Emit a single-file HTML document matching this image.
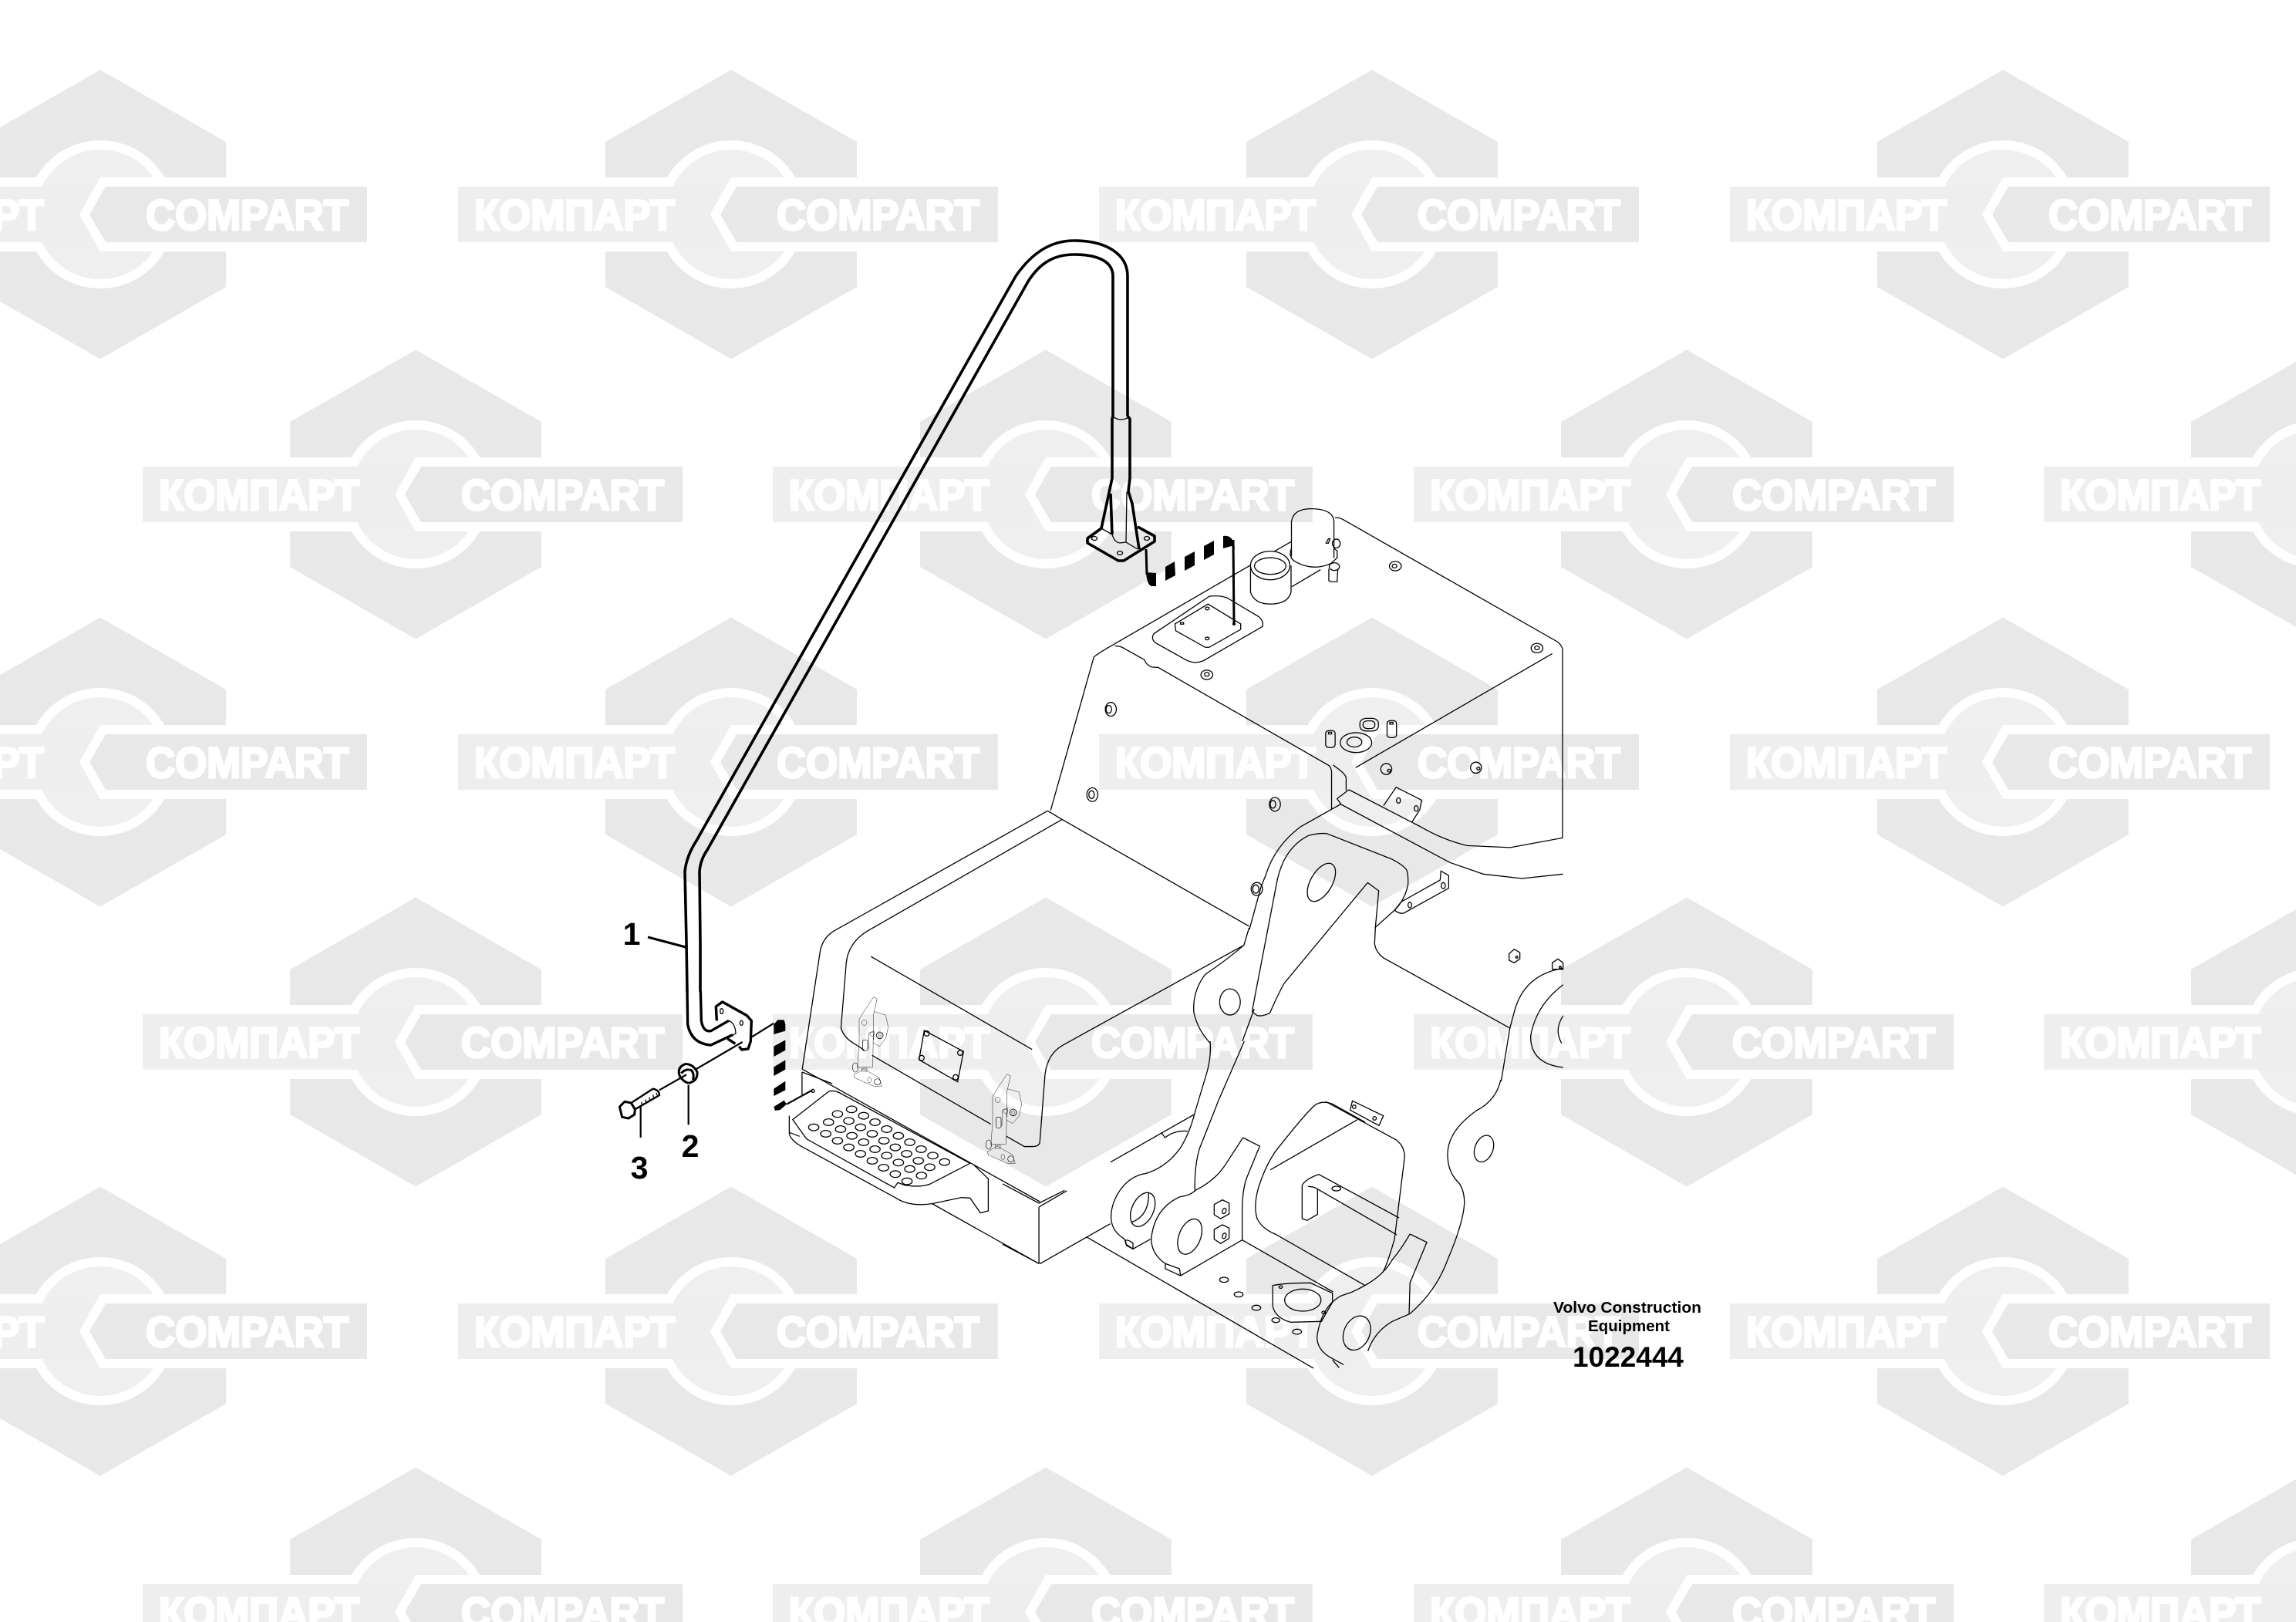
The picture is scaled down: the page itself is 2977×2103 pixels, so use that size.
<!DOCTYPE html>
<html><head><meta charset="utf-8"><style>
html,body{margin:0;padding:0;background:#fff;width:2977px;height:2103px;overflow:hidden}
svg{display:block;width:2977px;height:2103px;overflow:hidden}
.t path,.t ellipse,.t circle,.t polygon,.t polyline,.t rect{vector-effect:non-scaling-stroke}
.t{fill:none;stroke:#000;stroke-width:1.3}
.wt{font-family:"Liberation Sans",sans-serif;font-weight:bold;font-size:56px;fill:#fff;stroke:#fff;stroke-width:3}
.lb{font-family:"Liberation Sans",sans-serif;font-weight:bold;fill:#000}
</style></head><body>
<svg xmlns="http://www.w3.org/2000/svg" xmlns:xlink="http://www.w3.org/1999/xlink" width="2977" height="2103" viewBox="0 0 2977 2103">
<defs>
<clipPath id="page"><rect width="2977" height="2103"/></clipPath>
<g id="w">
<polygon points="0,-187.5 163,-94 163,-48 -163,-48 -163,-94" fill="#e8e8e8"/>
<polygon points="0,187.5 163,94 163,48 -163,48 -163,94" fill="#e8e8e8"/>
<circle r="96" fill="#fff"/>
<circle r="84" fill="#efefef"/>
<rect x="-354" y="-36" width="340" height="72" fill="#eeeeee"/>
<polygon points="0,-48 -27,0 0,48 100,48 100,-48" fill="#fff"/>
<polygon points="7,-36 -14,0 7,36 346,36 346,-36" fill="#e8e8e8"/>
<text class="wt" x="59" y="20" textLength="263" lengthAdjust="spacingAndGlyphs">COMPART</text>
<text class="wt" x="-333" y="20" textLength="260" lengthAdjust="spacingAndGlyphs">КОМПАРТ</text>
</g>
<g id="latch">
<path d="M128 38 L142 45 L128 105 L125 310 L65 312 L72 230 L72 125 L90 95 Z"/>
<path d="M130 95 L175 108 L185 155 L175 200 L150 230 L125 215"/>
<path d="M108 240 L110 178 L130 170 L128 205"/>
<circle cx="92" cy="138" r="10"/><circle cx="122" cy="182" r="8"/>
<circle cx="152" cy="187" r="13" stroke-width="2.5"/><circle cx="152" cy="187" r="6"/>
<rect x="85" y="205" width="20" height="42" rx="6" stroke-width="2"/>
<ellipse cx="57" cy="312" rx="11" ry="18" stroke-width="1.8"/>
<rect x="82" y="315" width="20" height="12"/>
<path d="M52 340 L90 318 L150 352 L160 385 L130 385 L95 370 L55 352 Z"/>
<ellipse cx="112" cy="360" rx="7" ry="11"/><circle cx="143" cy="368" r="12" stroke-width="2"/>
</g>
</defs>
<rect width="2977" height="2103" fill="#fff"/>
<g clip-path="url(#page)">

<use xlink:href="#w" href="#w" x="130" y="278"/><use xlink:href="#w" href="#w" x="948" y="278"/><use xlink:href="#w" href="#w" x="1779" y="278"/><use xlink:href="#w" href="#w" x="2597" y="278"/>
<use xlink:href="#w" href="#w" x="539" y="641"/><use xlink:href="#w" href="#w" x="1356" y="641"/><use xlink:href="#w" href="#w" x="2187" y="641"/><use xlink:href="#w" href="#w" x="3004" y="641"/>
<use xlink:href="#w" href="#w" x="130" y="988"/><use xlink:href="#w" href="#w" x="948" y="988"/><use xlink:href="#w" href="#w" x="1779" y="988"/><use xlink:href="#w" href="#w" x="2597" y="988"/>
<use xlink:href="#w" href="#w" x="539" y="1351"/><use xlink:href="#w" href="#w" x="1356" y="1351"/><use xlink:href="#w" href="#w" x="2187" y="1351"/><use xlink:href="#w" href="#w" x="3004" y="1351"/>
<use xlink:href="#w" href="#w" x="130" y="1726"/><use xlink:href="#w" href="#w" x="948" y="1726"/><use xlink:href="#w" href="#w" x="1779" y="1726"/><use xlink:href="#w" href="#w" x="2597" y="1726"/>
<use xlink:href="#w" href="#w" x="539" y="2090"/><use xlink:href="#w" href="#w" x="1356" y="2090"/><use xlink:href="#w" href="#w" x="2187" y="2090"/><use xlink:href="#w" href="#w" x="3004" y="2090"/>

<!-- tank (upper machine body) -->
<g class="t" transform="translate(1300,600) scale(.5102,.3571)">
<path d="M272 668 L735 285"/>
<path d="M734 340 L734 215 Q738 165 788 167 Q842 170 842 215 L842 345"/>
<path d="M734 310 Q725 345 745 360 Q790 395 835 365 L850 345 L850 320 L842 310"/>
<path d="M845 200 Q855 198 865 206 L1410 650 Q1423 665 1423 680 L1423 1362 L1290 1397 L1180 1390 Q1120 1370 1060 1320 L1040 1305"/>
<ellipse cx="680" cy="373" rx="50" ry="52" fill="#fff"/>
<ellipse cx="680" cy="375" rx="40" ry="30"/>
<path d="M630 373 L630 470 Q640 513 680 513 Q725 513 733 470 L733 373"/>
<path d="M735 450 L808 388"/>
<ellipse cx="848" cy="293" rx="10" ry="16"/><path d="M822 292 L828 276 L832 276 L828 292 Z"/>
<ellipse cx="843" cy="377" rx="13" ry="14"/>
<path d="M829 385 L829 428 L835 432 L850 432 L852 385"/>
<path d="M525 485 Q550 480 570 490 L650 558 Q665 575 660 595 L515 715 Q490 735 465 715 L390 655 Q375 640 385 620 Z"/>
<path d="M522 513 L605 585 L605 605 L525 670 L515 670 L440 610 L438 585 Z"/>
<ellipse cx="520" cy="529" rx="5" ry="5"/><rect x="452" y="580" width="8" height="6"/><ellipse cx="520" cy="638" rx="5" ry="5"/>
<ellipse cx="998" cy="375" rx="15" ry="17"/><ellipse cx="996" cy="375" rx="6" ry="7"/>
<ellipse cx="1358" cy="673" rx="15" ry="17"/><ellipse cx="1358" cy="672" rx="6" ry="7"/>
<ellipse cx="519" cy="770" rx="15" ry="17"/><ellipse cx="519" cy="768" rx="6" ry="7"/>
<path d="M272 668 Q245 690 232 705 L122 1262"/>
<path d="M285 665 Q300 665 310 675 L360 715 Q365 735 380 742 L395 743 L830 1100 Q836 1110 836 1125 L836 1258"/>
<path d="M840 1098 Q873 1130 873 1145 L873 1190"/>
<path d="M897 1107 L1397 693"/>
<path d="M880 1187 L850 1220 L860 1240"/>
<path d="M880 1187 L1040 1305"/>
<path d="M968 1245 L1000 1178 L1065 1225 L1060 1260 L1040 1305"/>
<ellipse cx="1006" cy="1226" rx="5" ry="10"/><ellipse cx="1051" cy="1255" rx="5" ry="10"/>
<ellipse cx="275" cy="895" rx="14" ry="25"/><ellipse cx="270" cy="895" rx="7" ry="14"/>
<ellipse cx="228" cy="1205" rx="14" ry="25"/><ellipse cx="226" cy="1205" rx="7" ry="14"/>
<ellipse cx="692" cy="1240" rx="14" ry="25"/><ellipse cx="687" cy="1240" rx="7" ry="14"/>
<ellipse cx="975" cy="1112" rx="14" ry="20"/><ellipse cx="982" cy="1118" rx="4" ry="5"/>
<ellipse cx="1203" cy="1107" rx="14" ry="20"/><ellipse cx="1209" cy="1110" rx="4" ry="5"/>
<rect x="908" y="928" width="47" height="46" rx="16" ry="18"/><rect x="916" y="937" width="30" height="28" rx="11" ry="11"/>
<rect x="977" y="936" width="24" height="62" rx="9" ry="10"/><rect x="984" y="942" width="8" height="7"/>
<rect x="821" y="972" width="24" height="62" rx="9" ry="10"/><rect x="828" y="978" width="8" height="7"/>
<ellipse cx="898" cy="1016" rx="40" ry="36"/><ellipse cx="894" cy="1014" rx="19" ry="18"/>
</g>

<!-- battery box + arm continuation -->
<g class="t" transform="translate(1000,1000) scale(.6698,.4464)">
<path d="M535 115 L120 465 Q100 485 95 520 L60 865"/>
<path d="M563 140 L185 465 Q148 500 145 560 L135 745 Q140 775 165 795 L180 810"/>
<path d="M535 115 L563 140 L925 450"/>
<path d="M60 865 L520 1250"/>
<path d="M193 538 L505 808"/>
<path d="M915 505 L565 795 Q535 820 530 880 L520 1075 Q520 1090 505 1090 L490 1090 L455 1060"/>
<path d="M195 825 L425 1025"/>
<path d="M1533 572 Q1460 590 1440 690 L1430 745"/>
<path d="M1533 620 Q1480 680 1470 770 Q1470 850 1533 860"/>
<path d="M1533 710 Q1515 750 1530 790"/>
<path d="M1430 745 L1413 900"/>
<path d="M925 455 L915 505 Q880 550 840 590 Q815 640 818 700 Q825 750 850 790"/>
<ellipse cx="888" cy="670" rx="20" ry="38"/>
<path d="M935 690 L912 784"/>
<ellipse cx="940" cy="342" rx="11" ry="19"/><ellipse cx="938" cy="342" rx="6" ry="12"/>
</g>

<!-- upper arm -->
<g class="t" transform="translate(1620,1040) scale(.33333)">
<path d="M0 495 L45 330 L65 280 Q100 170 200 95 L355 8 L780 235 L910 280 L1060 297 L1220 280"/>
<path d="M10 815 L105 320 Q130 180 230 130 Q265 120 300 122 L550 220 Q600 245 612 265 Q618 280 617 320 Q605 380 565 420 L490 487 L503 345 L460 313 L135 705 Q100 770 80 820 Q50 835 30 830 L10 815"/>
<path d="M490 487 L487 550 Q490 580 520 605 L1015 880"/>
<path d="M745 268 L775 285 L775 335 L600 432 Q580 435 565 420 L590 388 L742 303 Z"/>
<ellipse cx="624" cy="400" rx="7" ry="11"/><ellipse cx="754" cy="325" rx="8" ry="12"/>
<path d="M1010 590 L1030 572 L1052 585 L1052 610 L1030 625 L1010 615 Z"/><circle cx="1040" cy="603" r="4"/>
<path d="M1178 625 L1200 610 L1220 625 L1220 650 L1178 650 Z"/><circle cx="1209" cy="642" r="4"/>
<ellipse cx="280" cy="312" rx="42" ry="82" transform="rotate(30 280 312)"/>
</g>

<!-- lower arms -->
<g class="t" transform="translate(1440,1350) scale(.33333)">
<path d="M387 0 Q392 60 375 120 L330 270 Q310 350 275 410 Q220 490 135 515 Q70 525 30 590 Q0 640 2 690 Q5 740 55 770 L60 790 L87 808 L155 770"/>
<path d="M520 0 L420 230 L345 420 Q325 490 328 585"/>
<path d="M515 375 L580 408 L530 530 Q515 570 512 640 L512 773 L272 912 L213 885 L213 865 L268 885 L272 912"/>
<path d="M515 375 L450 475 Q410 540 330 580 Q310 600 270 605 Q170 650 158 770 Q160 830 213 865"/>
<ellipse cx="125" cy="655" rx="42" ry="70" transform="rotate(25 125 655)"/>
<path d="M148 590 Q150 680 80 705"/>
<ellipse cx="308" cy="760" rx="42" ry="72" transform="rotate(22 308 760)"/>
<path d="M403 635 L435 617 L461 630 L461 672 L428 690 L403 675 Z"/><ellipse cx="442" cy="660" rx="7" ry="11" transform="rotate(20 442 660)"/>
<path d="M403 732 L435 714 L461 727 L461 767 L428 787 L403 770 Z"/><ellipse cx="442" cy="757" rx="7" ry="11" transform="rotate(20 442 757)"/>
<path d="M58 775 Q65 770 87 785 L87 808 L62 795 Z"/>
<path d="M0 470 L325 285"/>
<path d="M197 355 L212 375 Q250 345 300 350"/>
<path d="M990 315 L865 245 Q830 230 800 245 Q770 265 640 430 Q600 490 575 570 Q555 640 570 690 Q590 730 640 750 L990 950"/>
<path d="M622 500 L960 305"/>
<path d="M745 560 Q760 535 810 518 L1122 687"/>
<path d="M768 565 Q790 565 805 575 L1113 753"/>
<path d="M745 560 L745 690 L765 697 L805 673 L805 575"/>
<ellipse cx="878" cy="573" rx="17" ry="9"/>
<path d="M512 773 L865 975"/>
</g>

<!-- lower frame, right side -->
<g class="t" transform="translate(1300,1400) scale(.5741,.3333)">
<path d="M0 405 L82 480 L140 430 M82 495 L145 432 M82 495 L82 710 L85 715 L190 612 L243 560"/>
<path d="M0 640 L82 715"/>
<path d="M190 612 L702 1122"/>
<path d="M730 85 L890 235 Q908 260 908 300 L885 620 Q870 710 860 745 Q840 785 790 825 L765 840 Q720 880 710 1000 Q710 1050 740 1080 L770 1108"/>
<path d="M790 82 L860 140 L850 178 L785 118 Z"/><ellipse cx="794" cy="105" rx="4" ry="7"/><ellipse cx="840" cy="150" rx="4" ry="7"/>
<path d="M1125 0 Q1115 80 1070 120 Q1005 200 1005 290 Q1005 360 1030 400 Q1043 430 1043 480 Q1040 560 1005 700 Q980 820 920 910 L880 940 Q840 980 825 1055"/>
<ellipse cx="1087" cy="268" rx="21" ry="52" transform="rotate(8 1087 268)"/>
<path d="M920 600 L958 632 L920 790 L918 912 M920 600 Q900 660 880 700 Q870 730 860 745"/>
<path d="M610 800 Q640 790 695 790 L745 830 L745 865 L720 940 L650 943 Q615 925 610 880 Z"/>
<ellipse cx="678" cy="857" rx="41" ry="43"/><ellipse cx="628" cy="806" rx="4" ry="5"/><ellipse cx="725" cy="905" rx="4" ry="5"/>
<ellipse cx="500" cy="778" rx="10" ry="10"/><ellipse cx="533" cy="835" rx="10" ry="10"/><ellipse cx="573" cy="887" rx="10" ry="10"/><ellipse cx="617" cy="935" rx="9" ry="9"/><ellipse cx="665" cy="980" rx="10" ry="10"/>
<ellipse cx="800" cy="985" rx="30" ry="67" transform="rotate(8 800 985)"/>
<path d="M745 1090 L760 1120"/>
</g>

<!-- step -->
<g class="t" transform="translate(760,1140) scale(.4464,.3333)">
<path d="M627 750 L627 840 M627 750 L715 795"/>
<path d="M705 825 Q720 820 735 830 L1115 1105 L1000 1185 Q970 1200 925 1190 L905 1180 L895 1200 L640 1010 L600 935 Z"/>
<path d="M590 920 L590 990 Q595 1020 640 1050 L900 1240 Q940 1275 1005 1262 L1090 1238 L1115 1240 L1145 1298 L1168 1290 L1168 1165 L1125 1110"/>
<path d="M1005 1262 L1315 1495"/>
<path d="M620 1000 L590 985"/>
<ellipse cx="771" cy="895" rx="15" ry="13"/><ellipse cx="730" cy="913" rx="15" ry="13"/><ellipse cx="806" cy="920" rx="15" ry="13"/><ellipse cx="661" cy="965" rx="15" ry="13"/><ellipse cx="704" cy="945" rx="15" ry="13"/><ellipse cx="763" cy="940" rx="15" ry="13"/><ellipse cx="839" cy="945" rx="15" ry="13"/><ellipse cx="696" cy="990" rx="15" ry="13"/><ellipse cx="739" cy="972" rx="15" ry="13"/><ellipse cx="797" cy="965" rx="15" ry="13"/><ellipse cx="873" cy="972" rx="15" ry="13"/><ellipse cx="730" cy="1017" rx="15" ry="13"/><ellipse cx="772" cy="998" rx="15" ry="13"/><ellipse cx="831" cy="990" rx="15" ry="13"/><ellipse cx="907" cy="998" rx="15" ry="13"/><ellipse cx="763" cy="1043" rx="15" ry="13"/><ellipse cx="806" cy="1023" rx="15" ry="13"/><ellipse cx="865" cy="1017" rx="15" ry="13"/><ellipse cx="940" cy="1023" rx="15" ry="13"/><ellipse cx="797" cy="1068" rx="15" ry="13"/><ellipse cx="839" cy="1050" rx="15" ry="13"/><ellipse cx="898" cy="1043" rx="15" ry="13"/><ellipse cx="973" cy="1050" rx="15" ry="13"/><ellipse cx="831" cy="1095" rx="15" ry="13"/><ellipse cx="873" cy="1075" rx="15" ry="13"/><ellipse cx="931" cy="1068" rx="15" ry="13"/><ellipse cx="1007" cy="1075" rx="15" ry="13"/><ellipse cx="864" cy="1122" rx="15" ry="13"/><ellipse cx="907" cy="1102" rx="15" ry="13"/><ellipse cx="965" cy="1095" rx="15" ry="13"/><ellipse cx="1041" cy="1100" rx="15" ry="13"/><ellipse cx="898" cy="1147" rx="15" ry="13"/><ellipse cx="940" cy="1127" rx="15" ry="13"/><ellipse cx="998" cy="1120" rx="15" ry="13"/><ellipse cx="932" cy="1175" rx="15" ry="13"/><ellipse cx="974" cy="1153" rx="15" ry="13"/>
</g>

<!-- latches and name plate -->
<g class="t" transform="translate(1090,1280) scale(.33333)">
<use xlink:href="#latch" href="#latch"/>
<use xlink:href="#latch" href="#latch" x="519" y="300"/>
<path d="M325 168 L478 250 L455 368 L305 282 Z"/>
<circle cx="335" cy="180" r="10"/><circle cx="465" cy="255" r="10"/><circle cx="315" cy="275" r="10"/><circle cx="447" cy="350" r="10"/>
</g>

<!-- handrail -->
<g fill="none" stroke="#000" stroke-width="3.6" stroke-linejoin="round">
<path d="M891 1286 L890 1222 L888 1130 Q890 1110 903 1090 L1317 358 C1340 325 1365 312 1393 312 C1435 312 1462 330 1462 358 L1462 540"/>
<path d="M908 1286 L908 1222 L907 1130 Q908 1115 917 1102 L1333 365 C1350 338 1370 330 1393 330 C1425 330 1443 340 1443 358 L1443 540"/>
<path d="M1443 540 L1442 543 L1442 620 L1428 685 L1410 698 L1410 704 L1450 727 L1457 727 L1497 702 L1497 695 L1475 683"/>
<path d="M1462 540 L1465 543 L1465 620 L1463 637 L1468 653 L1477 712"/>
<path d="M1440 640 L1442 693"/>
</g>
<g fill="none" stroke="#000" stroke-width="1.3">
<path d="M1461 638 L1460 703"/>
<path d="M1442 693 Q1445 703 1452 704 L1460 703 L1475 712"/>
<path d="M1428 685 L1442 693"/>
<ellipse cx="1419" cy="698" rx="3.5" ry="2.5"/><ellipse cx="1487" cy="698" rx="3.5" ry="2.5"/><ellipse cx="1452" cy="717" rx="3.5" ry="2.5"/>
<path d="M1443 540 Q1453 548 1465 540"/>
</g>

<!-- flange, bolt, washer, dashed lines, leaders -->
<g transform="translate(790,1285) scale(.33333)" fill="none" stroke="#000" stroke-linejoin="round">
<g stroke-width="3.4" vector-effect="non-scaling-stroke">
<path vector-effect="non-scaling-stroke" d="M303 0 L305 130 Q320 205 395 210 L480 170"/>
<path vector-effect="non-scaling-stroke" d="M355 0 L358 115 Q365 160 395 155 L465 115"/>
<path vector-effect="non-scaling-stroke" d="M418 115 L415 60 L440 42 L535 95 L553 115 L550 195 L540 225 L515 228 L505 215"/>
<path vector-effect="non-scaling-stroke" d="M460 185 L490 205"/>
</g>
<g stroke-width="1.3">
<path vector-effect="non-scaling-stroke" d="M465 115 Q490 125 492 165 L480 172"/>
<ellipse vector-effect="non-scaling-stroke" cx="437" cy="78" rx="6" ry="10"/>
<ellipse vector-effect="non-scaling-stroke" cx="514" cy="124" rx="6" ry="9"/>
<path vector-effect="non-scaling-stroke" d="M125 432 L128 442 M140 422 L143 432 M155 413 L158 423 M170 404 L173 414 M183 396 L186 405"/>
</g>
<g stroke-width="2.2">
<path vector-effect="non-scaling-stroke" d="M195 385 L300 325"/>
<path vector-effect="non-scaling-stroke" d="M335 305 L518 198"/>
<path vector-effect="non-scaling-stroke" d="M555 178 L640 125"/>
<path vector-effect="non-scaling-stroke" d="M122 450 L122 570"/>
<path vector-effect="non-scaling-stroke" d="M308 365 L308 520"/>
<path vector-effect="non-scaling-stroke" d="M690 440 L790 385"/>
</g>
<g stroke-width="3">
<path vector-effect="non-scaling-stroke" d="M40 450 L60 430 L85 435 L100 460 L98 480 L75 495 L50 490 Z"/>
<path vector-effect="non-scaling-stroke" d="M85 435 L170 380 Q195 385 195 405 L100 460" stroke-width="2.4"/>
<path vector-effect="non-scaling-stroke" d="M308 358 Q345 350 342 315 Q325 282 295 284 Q265 295 272 325 Q282 350 308 358"/>
<path vector-effect="non-scaling-stroke" d="M280 320 Q295 300 320 308 Q332 325 325 345"/>
</g>
<circle vector-effect="non-scaling-stroke" cx="792" cy="388" r="6" stroke-width="1.3"/>
<g fill="#000" stroke="none">
<path d="M640 130 L655 112 L680 112 L685 130 L685 155 L640 168 Z"/>
<polygon points="640,215 685,190 685,230 640,255"/>
<polygon points="640,295 685,268 685,305 640,330"/>
<polygon points="640,380 685,350 685,385 640,408"/>
<polygon points="640,450 680,425 690,440 665,462 645,465"/>
</g>
</g>

<!-- upper dashed connector -->
<g fill="none" stroke="#000" stroke-width="3">
<path d="M1486 712 L1487 745"/>
<path d="M1599 700 L1600 809"/>
</g>
<g fill="#000">
<polygon points="1511,735 1523,728 1524,746 1511,753"/>
<polygon points="1536,722 1549,715 1549,733 1536,740"/>
<polygon points="1561,708 1574,701 1574,719 1561,726"/>
<path d="M1486 742 L1499 743 L1499 760 L1493 760 Q1487 758 1486 742 Z"/>
<path d="M1586 695 Q1600 693 1601 712 L1597 708 L1586 711 Z"/>
<circle cx="1600" cy="809" r="2"/>
</g>

<!-- item 1 leader -->
<path d="M840 1215 L889 1228" fill="none" stroke="#000" stroke-width="3"/>

<text class="lb" x="819" y="1225" font-size="41" text-anchor="middle">1</text>
<text class="lb" x="895" y="1500" font-size="41" text-anchor="middle">2</text>
<text class="lb" x="829" y="1528" font-size="41" text-anchor="middle">3</text>
<text class="lb" x="2014" y="1702" font-size="20" textLength="192" lengthAdjust="spacingAndGlyphs">Volvo Construction</text>
<text class="lb" x="2059" y="1726" font-size="20" textLength="106" lengthAdjust="spacingAndGlyphs">Equipment</text>
<text class="lb" x="2039" y="1772" font-size="37" textLength="144" lengthAdjust="spacingAndGlyphs">1022444</text>
</g>
</svg>
</body></html>
